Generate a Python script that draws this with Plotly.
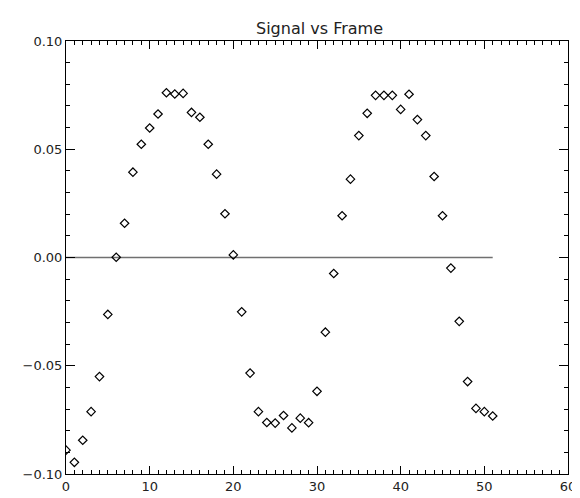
import plotly.graph_objects as go

frames = list(range(52))
signal = [-0.0890, -0.0946, -0.0844, -0.0712, -0.0550, -0.0263, 0.0001, 0.0158,
          0.0394, 0.0523, 0.0598, 0.0663, 0.0761, 0.0755, 0.0758, 0.0670,
          0.0648, 0.0523, 0.0385, 0.0202, 0.0012, -0.0251, -0.0534, -0.0712,
          -0.0762, -0.0765, -0.0730, -0.0787, -0.0742, -0.0763, -0.0618, -0.0345,
          -0.0074, 0.0193, 0.0362, 0.0563, 0.0666, 0.0749, 0.0749, 0.0749,
          0.0684, 0.0754, 0.0637, 0.0563, 0.0374, 0.0193, -0.0049, -0.0295,
          -0.0573, -0.0697, -0.0712, -0.0732]
zero_x = [0, 51]
zero_y = [0, 0]

fig = go.Figure()
fig.add_trace(go.Scatter(x=zero_x, y=zero_y, mode="lines",
                         line=dict(color="#707070", width=1.5), showlegend=False))
fig.add_trace(go.Scatter(x=frames, y=signal, mode="markers",
                         marker=dict(symbol="diamond-open", size=6.5,
                                     line=dict(color="black", width=1.2), color="black"),
                         showlegend=False))

font = dict(family="DejaVu Sans", size=13, color="#222222")
fig.update_layout(
    width=580, height=498,
    margin=dict(l=58, r=15, t=33, b=24),
    paper_bgcolor="white", plot_bgcolor="white",
    font=font,
    title=dict(text="Signal vs Frame", x=(58 + 565) / 2 / 580, xanchor="center",
               y=1 - 20 / 498, yanchor="middle",
               font=dict(family="DejaVu Sans", size=16, color="#222222")),
    xaxis=dict(range=[0, 60], dtick=10, tick0=0, ticks="inside", ticklen=8,
               tickcolor="black", showline=True, linecolor="black", linewidth=1,
               mirror="ticks", showgrid=False, zeroline=False,
               minor=dict(dtick=1, ticks="inside", ticklen=4, tickwidth=1,
                          tickcolor="black", showgrid=False)),
    yaxis=dict(range=[-0.1, 0.1], dtick=0.05, tick0=0, tickformat=".2f",
               ticks="inside", ticklen=9, tickcolor="black", showline=True,
               linecolor="black", linewidth=1, mirror="ticks", showgrid=False,
               zeroline=False,
               minor=dict(dtick=0.01, ticks="inside", ticklen=4, tickwidth=1,
                          tickcolor="black", showgrid=False)),
)
fig.write_html("out.html")
